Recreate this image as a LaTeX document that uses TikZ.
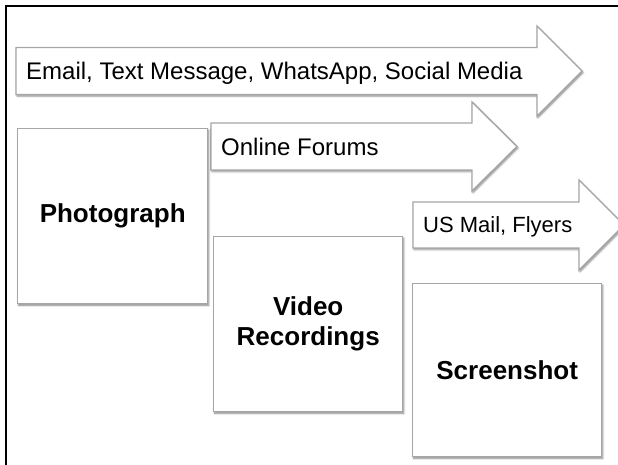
\documentclass[tikz,border=0pt]{standalone}
\usepackage{fontspec}
\setmainfont{Liberation Sans}
\usetikzlibrary{shadows.blur}

\begin{document}
\begin{tikzpicture}[
  x=1pt, y=-1pt,
  flow/.style={draw=gray!70, line width=1.4pt, fill=white, line join=miter,
    blur shadow={shadow xshift=1pt, shadow yshift=-1.5pt, shadow blur radius=2pt, shadow opacity=50}},
  card/.style={flow, rectangle, anchor=north west, minimum width=189pt, minimum height=175pt,
    align=center, font=\fontsize{26}{30}\selectfont\bfseries},
  lbl/.style={anchor=base west, inner sep=0pt, font=\fontsize{24}{28}\selectfont}]
\useasboundingbox (0,0) rectangle (618,464);
\clip (0,0) rectangle (618,464);

\draw[line width=2.6pt] (6,466) -- (6,6) -- (620,6);

% channels
\draw[flow] (16,47.5) -- (537,47.5) -- (537,26) -- (582,71) -- (537,116) -- (537,94.5) -- (16,94.5) -- cycle;
\draw[flow] (211,123) -- (472,123) -- (472,102) -- (517,146.5) -- (472,191) -- (472,170) -- (211,170) -- cycle;
\draw[flow] (413,202) -- (579,202) -- (579,180) -- (624,225) -- (579,270) -- (579,248) -- (413,248) -- cycle;
\node[lbl] (mail) at (26,79.6) {Email, Text Message, WhatsApp, Social Media};
\node[lbl] (forum) at (221,155.1) {Online Forums};
\node[lbl, font=\fontsize{22}{26}\selectfont] (post) at (423,232.9) {US Mail, Flyers};

% evidence
\node[card, minimum width=190pt] (photo) at (17,128) {Photograph};
\node[card] (video) at (213,236) {Video\\Recordings};
\node[card, minimum height=173pt] (shot) at (412,283) {Screenshot};
\end{tikzpicture}
\end{document}
